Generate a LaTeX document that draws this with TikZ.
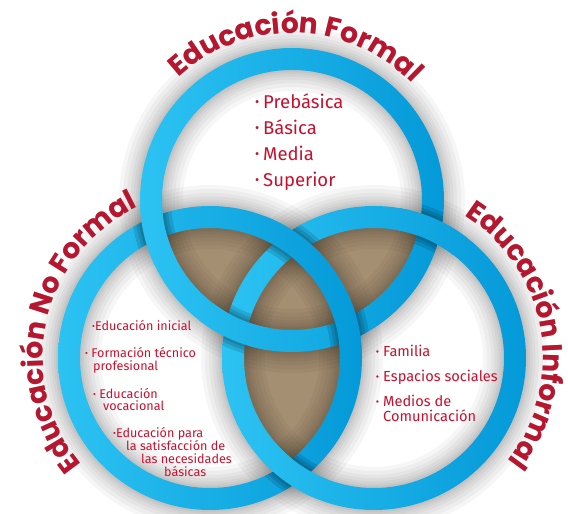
\documentclass[tikz,border=0pt]{standalone}
\usepackage{fontspec}
\setmainfont{Fira Sans}
\newfontfamily\titlefont{Poppins}
\usetikzlibrary{decorations.text,calc}
\definecolor{bandL}{HTML}{2CC3F3}
\definecolor{bandR}{HTML}{0499D8}
\definecolor{brownfill}{HTML}{A58F72}
\definecolor{txtred}{HTML}{C8102E}
\definecolor{titlered}{HTML}{B8152F}
\newcommand\titlestyle{\titlefont\bfseries\fontsize{28}{28}\selectfont}
\newcommand\bl{\raisebox{0.12em}{\scalebox{0.7}{•}}}
\newcommand\ringshade[1]{\shade[left color=bandL,right color=bandR,even odd rule] (#1) circle[radius=152] (#1) circle[radius=130];}
% #1 over ring centre, #2 angle on over ring, #3 under ring centre
\newcommand\overpatch[3]{%
  \begin{scope}[even odd rule]
    \clip (#1) -- ($(#1)+(#2-10:175)$) arc[start angle=#2-10,end angle=#2+10,radius=175] -- cycle;
    \clip (#3) circle[radius=152] (#3) circle[radius=130];
    \foreach \w in {40,33,27}{\draw[line width=\w pt,black,opacity=.12] (#1) circle[radius=141];}
  \end{scope}
  \begin{scope}
    \clip (#1) -- ($(#1)+(#2-14:175)$) arc[start angle=#2-14,end angle=#2+14,radius=175] -- cycle;
    \ringshade{#1}
  \end{scope}}
\begin{document}
\begin{tikzpicture}[x=1pt,y=1pt,
  listtxt/.style={anchor=base west,inner sep=0,text=txtred},
  title/.style={decorate,decoration={text along path,text align=center,text color=titlered,text={|\titlestyle|#1}}},
  titleshadow/.style={decorate,decoration={text along path,text align=center,text color=black!30,text={|\titlestyle|#1}}}]
\useasboundingbox (0,0) rectangle (568,514);
\fill[white] (0,0) rectangle (568,514);
\coordinate (T) at (292,314);
\coordinate (L) at (210,156);
\coordinate (R) at (374,156);
% brown intersections
\begin{scope}
  \clip (T) circle[radius=141];
  \fill[brownfill] (L) circle[radius=141];
  \fill[brownfill] (R) circle[radius=141];
\end{scope}
\begin{scope}
  \clip (L) circle[radius=141];
  \fill[brownfill] (R) circle[radius=141];
\end{scope}
% glow
\foreach \c in {T,L,R}{\foreach \w in {64,56,48,41,35,30,26}{\draw[line width=\w pt,black,opacity=.035] (\c) circle[radius=141];}}
% rings
\ringshade{T}
\ringshade{L}
\ringshade{R}
% over crossings
\overpatch{T}{191.4}{L}
\overpatch{R}{66.3}{T}
\overpatch{R}{234.7}{L}
\overpatch{L}{54.7}{R}
\overpatch{T}{246.3}{R}
\overpatch{L}{11.4}{T}
% titles
\begin{scope}[shift={(1.2,-1.5)}]
\path[titleshadow={Educación Formal}] ($(T)+(160:167)$) arc[start angle=160,end angle=17,radius=167];
\path[titleshadow={Educación No Formal}] ($(L)+(245:167)$) arc[start angle=245,end angle=90,radius=167];
\path[titleshadow={Educación Informal}] ($(R)+(85:169)$) arc[start angle=85,end angle=-65,radius=169];
\end{scope}
\path[title={Educación Formal}] ($(T)+(160:167)$) arc[start angle=160,end angle=17,radius=167];
\path[title={Educación No Formal}] ($(L)+(245:167)$) arc[start angle=245,end angle=90,radius=167];
\path[title={Educación Informal}] ($(R)+(85:169)$) arc[start angle=85,end angle=-65,radius=169];
% top list
\begin{scope}[every node/.style={listtxt,font=\fontsize{18.5}{18.5}\selectfont}]
  \node (f1) at (263,405) {\llap{\bl\hspace{4pt}}Prebásica};
  \node (f2) at (263,379) {\llap{\bl\hspace{4pt}}Básica};
  \node (f3) at (263,353) {\llap{\bl\hspace{4pt}}Media};
  \node (f4) at (263,327) {\llap{\bl\hspace{4pt}}Superior};
\end{scope}
% right list
\begin{scope}[every node/.style={listtxt,font=\fontsize{14.6}{14.6}\selectfont}]
  \node (i1) at (383,157) {\llap{\bl\hspace{4pt}}Familia};
  \node (i2) at (383,132) {\llap{\bl\hspace{4pt}}Espacios sociales};
  \node (i3) at (383,107) {\llap{\bl\hspace{4pt}}Medios de};
  \node (i4) at (383,92) {Comunicación};
\end{scope}
% left list
\begin{scope}[every node/.style={listtxt,font=\fontsize{12.6}{12.6}\selectfont}]
  \node (n1) at (92,183) {\bl Educación inicial};
  \node (n2) at (85,156) {\bl\ Formación técnico};
  \node (n3) at (93,143) {profesional};
  \node (n4) at (93,115) {\bl\ Educación};
  \node (n5) at (103,103) {vocacional};
  \node (n6) at (113,76) {\bl Educación para};
  \node (n7) at (126,63) {la satisfacción de};
  \node (n8) at (141,50) {las necesidades};
  \node (n9) at (164,37.5) {básicas};
\end{scope}
\end{tikzpicture}
\end{document}
